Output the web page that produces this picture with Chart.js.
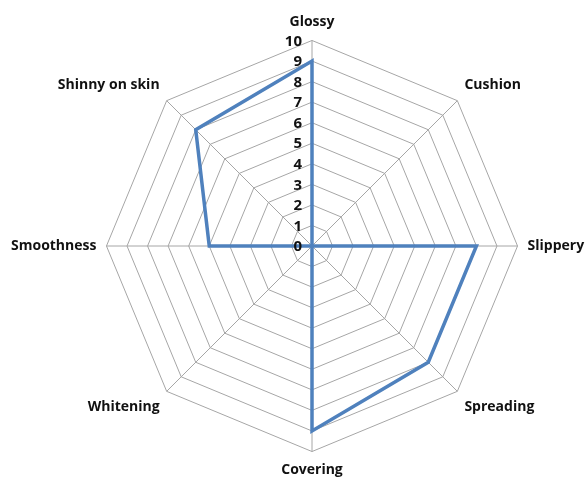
<!DOCTYPE html>
<html>
<head>
<meta charset="utf-8">
<script src="https://cdn.jsdelivr.net/npm/chart.js@4.4.1/dist/chart.umd.min.js"></script>
<style>
  html, body { margin: 0; padding: 0; background: #ffffff; overflow: hidden; width: 588px; height: 482px; }
  /* canvas a bit wider than the window so the web gets the original's radius */
  #wrap { position: absolute; left: -3px; top: 6px; width: 603px; height: 482px; }
</style>
</head>
<body>
<div id="wrap"><canvas id="radarChart"></canvas></div>
<script>
var categories = ["Glossy", "Cushion", "Slippery", "Spreading", "Covering", "Whitening", "Smoothness", "Shinny on skin"];
var scores = [9, 0, 8, 8, 9, 0, 5, 8];
var tickValues = [0, 1, 2, 3, 4, 5, 6, 7, 8, 9, 10];

/**
 * Tick labels sit to the left of the vertical axis, like the original
 */
var leftTicks = {
    id: 'leftTicks',
    afterDatasetsDraw: function (chart) {
        var scale = chart.scales.r;
        var ctx = chart.ctx;
        ctx.save();
        ctx.font = 'bold 15px "Open Sans", sans-serif';
        ctx.fillStyle = '#111111';
        ctx.textAlign = 'right';
        ctx.textBaseline = 'middle';
        tickValues.forEach(function (v) {
            var p = scale.getPointPositionForValue(0, v);
            ctx.fillText(String(v), p.x - 10, p.y + 1);
        });
        ctx.restore();
    }
};

var radarData = {
    labels: categories,
    datasets: [
        {
            label: "Score",
            data: scores,
            borderColor: "#4f81bd",
            backgroundColor: "rgba(0,0,0,0)",
            borderWidth: 3.5,
            pointRadius: 0,
            fill: false
        }
    ]
};

var radarOptions = {
    responsive: true,
    maintainAspectRatio: false,
    animation: false,
    plugins: {
        legend: { display: false },
        tooltip: { enabled: false }
    },
    scales: {
        r: {
            min: 0,
            max: 10,
            ticks: { stepSize: 1, display: false },
            grid: { color: "#a6a6a6", lineWidth: 1 },
            angleLines: { color: "#a6a6a6", lineWidth: 1 },
            pointLabels: {
                color: "#111111",
                padding: 10,
                font: { family: '"Open Sans", sans-serif', size: 14, weight: 'bold' }
            }
        }
    }
};

var ctx = document.getElementById("radarChart").getContext("2d");
new Chart(ctx, {type: 'radar', data: radarData, options: radarOptions, plugins: [leftTicks]});
</script>
</body>
</html>
